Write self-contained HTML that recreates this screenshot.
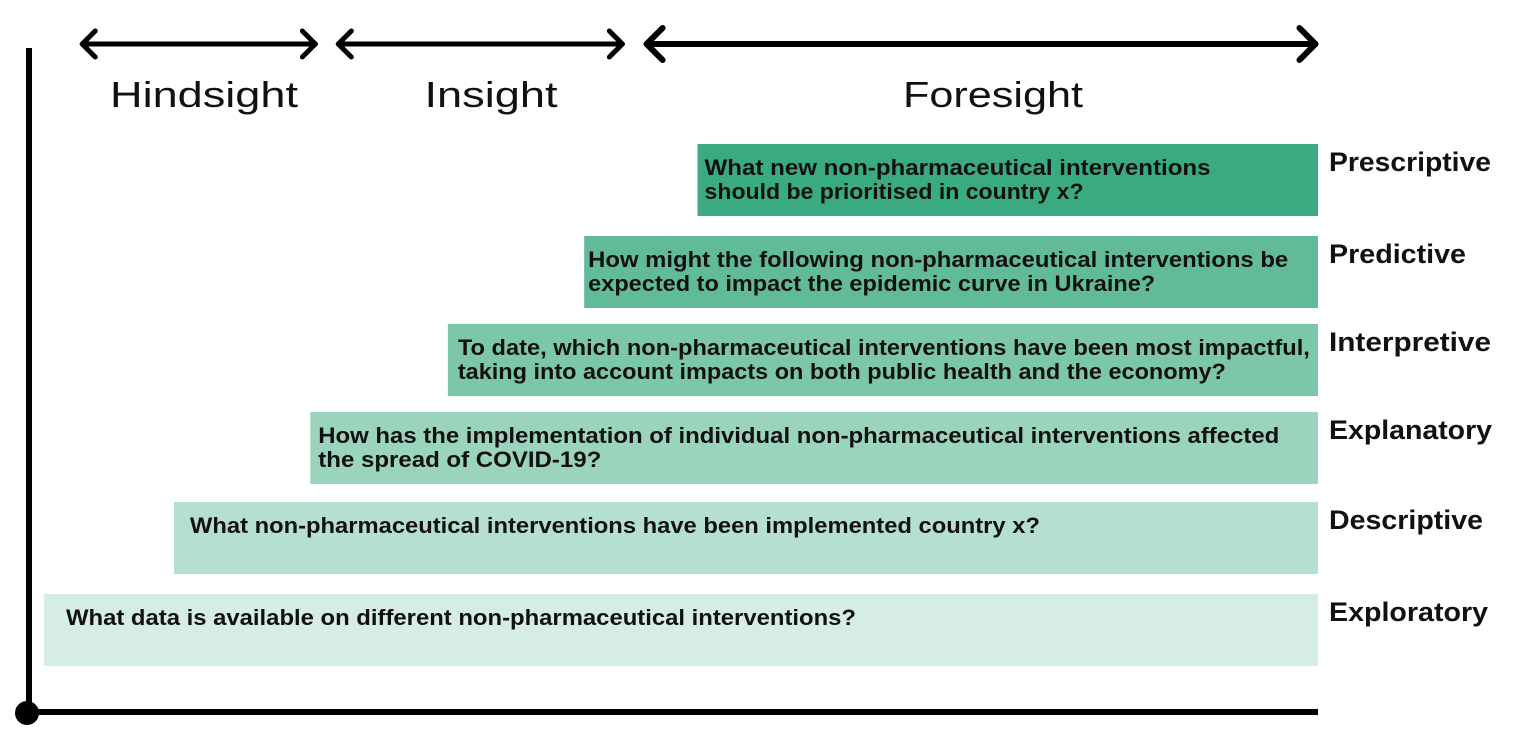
<!DOCTYPE html>
<html><head><meta charset="utf-8"><style>
html,body{margin:0;padding:0;background:#fff;width:1524px;height:746px;overflow:hidden}
svg{display:block}
</style></head><body>
<svg id="chart" width="1524" height="746" viewBox="0 0 1524 746" xmlns="http://www.w3.org/2000/svg" font-family="'Liberation Sans', sans-serif">
<g id="axes">
<line x1="29" y1="48" x2="29" y2="713" stroke="#000" stroke-width="6"/>
<line x1="27" y1="712" x2="1318" y2="712" stroke="#000" stroke-width="6"/>
<circle cx="27" cy="713" r="12" fill="#000"/>
</g>
<g id="arrows"></g>
<g id="bars"></g>
</svg>
<script>
const categories = ["Prescriptive","Predictive","Interpretive","Explanatory","Descriptive","Exploratory"];
const questionLine1 = ["What new non-pharmaceutical interventions","How might the following non-pharmaceutical interventions be","To date, which non-pharmaceutical interventions have been most impactful,","How has the implementation of individual non-pharmaceutical interventions affected","What non-pharmaceutical interventions have been implemented country x?","What data is available on different non-pharmaceutical interventions?"];
const questionLine2 = ["should be prioritised in country x?","expected to impact the epidemic curve in Ukraine?","taking into account impacts on both public health and the economy?","the spread of COVID-19?","",""];
const barStart = [5.13, 4.24, 3.17, 2.09, 1.02, 0];
const barEnd = [10, 10, 10, 10, 10, 10];
const barColors = ["#3aaa80","#62bb98","#7cc7a8","#9ad4bc","#b5e0cf","#d5ede4"];
const phases = ["Hindsight","Insight","Foresight"];
const phaseStart = [0.30, 2.31, 4.73];
const phaseEnd = [2.13, 4.54, 9.98];

const NS="http://www.w3.org/2000/svg";
const xScale = v => 44 + v * 127.4;
const rowTops = [144,236,324,412,502,594];
const rowH = 72;
const textOff=[7,4,10,8,16,22];
const line1W=[506,700,852,961,850,790], line2W=[379,567,768,283,0,0], labelW=[162,137,162,163,154,159];
const phaseLabelX=[204,491,993], phaseLabelW=[188,133,180];

function mk(tag, attrs){const e=document.createElementNS(NS,tag);for(const k in attrs)e.setAttribute(k,attrs[k]);return e;}

const arrows=document.getElementById('arrows');
phases.forEach((p,i)=>{
  const g=mk('g',{});
  
  
  const x1=xScale(phaseStart[i]), x2=xScale(phaseEnd[i]);
  const big=i===2, h=big?16:13, sw=big?6:5, y=44;
  g.appendChild(mk('line',{x1:x1,y1:y,x2:x2,y2:y,stroke:'#000','stroke-width':sw,'stroke-linecap':'round'}));
  g.appendChild(mk('polyline',{points:`${x1+h},${y-h} ${x1},${y} ${x1+h},${y+h}`,fill:'none',stroke:'#000','stroke-width':sw,'stroke-linecap':'round','stroke-linejoin':'round'}));
  g.appendChild(mk('polyline',{points:`${x2-h},${y-h} ${x2},${y} ${x2-h},${y+h}`,fill:'none',stroke:'#000','stroke-width':sw,'stroke-linecap':'round','stroke-linejoin':'round'}));
  const t=mk('text',{x:phaseLabelX[i]-phaseLabelW[i]/2,y:107,'font-size':36,fill:'#111',textLength:phaseLabelW[i],lengthAdjust:'spacingAndGlyphs'});
  
  
  t.textContent=p;
  arrows.appendChild(g);arrows.appendChild(t);
});

const bars=document.getElementById('bars');
categories.forEach((c,i)=>{
  const x1=xScale(barStart[i]), x2=xScale(barEnd[i]), y=rowTops[i];
  const r=mk('rect',{x:x1,y:y,width:x2-x1,height:rowH,fill:barColors[i]});
  
  
  bars.appendChild(r);
  const tx=x1+textOff[i];
  const t1=mk('text',{x:tx,y:y+31,'font-size':22,'font-weight':'bold',fill:'#111',textLength:line1W[i],lengthAdjust:'spacingAndGlyphs'});
  
  
  t1.textContent=questionLine1[i];
  bars.appendChild(t1);
  if(questionLine2[i]){
    const t2=mk('text',{x:tx,y:y+55,'font-size':22,'font-weight':'bold',fill:'#111',textLength:line2W[i],lengthAdjust:'spacingAndGlyphs'});
    
    
    t2.textContent=questionLine2[i];
    bars.appendChild(t2);
  }
  const l=mk('text',{x:1329,y:y+27,'font-size':27,'font-weight':'bold',fill:'#111',textLength:labelW[i],lengthAdjust:'spacingAndGlyphs'});
  
  
  l.textContent=c;
  bars.appendChild(l);
});
</script>
</body></html>
